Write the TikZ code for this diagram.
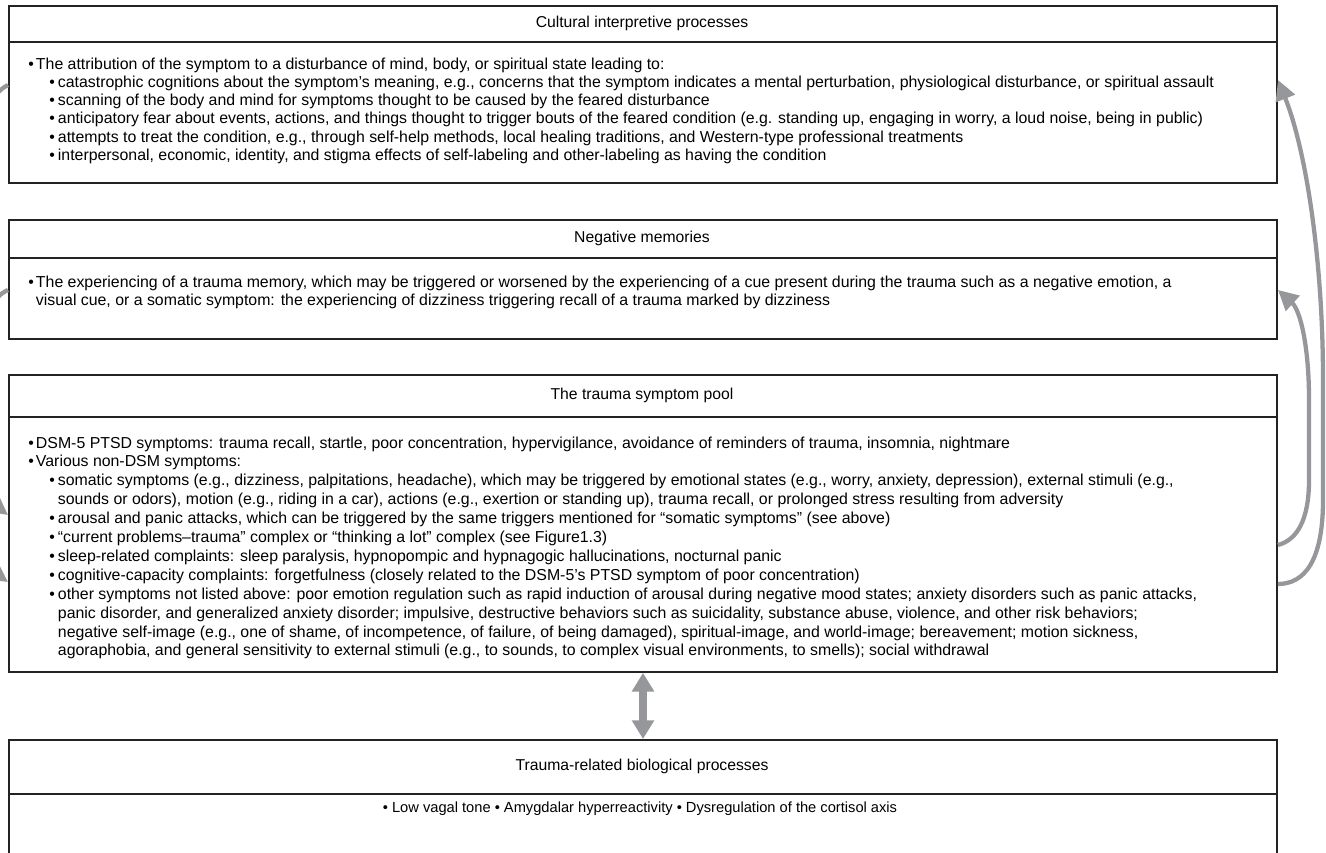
\documentclass[tikz,border=0pt]{standalone}
\usepackage{fontspec}
\setmainfont{Liberation Sans}
\usetikzlibrary{arrows.meta}
\definecolor{linkgray}{RGB}{150,151,154}
\definecolor{framecol}{RGB}{35,35,35}
\newcommand{\bodyfont}{\fontsize{11.9pt}{14pt}\selectfont}
\newcommand{\smallbody}{\fontsize{11pt}{13pt}\selectfont}
\newcommand{\headfont}{\fontsize{11.8pt}{14pt}\selectfont}
\newcommand{\topbul}{\makebox[5.8pt][l]{•}}
\newcommand{\subbul}{\makebox[6.5pt][l]{•}}

\begin{document}
\begin{tikzpicture}[x=0.75pt,y=-0.75pt,
  panel/.style={draw=framecol,line width=1.4pt,anchor=north west,inner sep=0pt,minimum width=951pt},
  divider/.style={draw=framecol,line width=1.3pt},
  heading/.style={font=\headfont,inner sep=0pt,anchor=center,text height=8.8pt,text depth=2.7pt},
  bodyline/.style={font=\bodyfont,inner sep=0pt,anchor=west,text height=8.8pt,text depth=2.7pt},
  link/.style={draw=linkgray,line width=3.2pt,-{Triangle[length=15pt,width=15pt]}},
  twoway/.style={draw=linkgray,line width=6pt,{Triangle[length=14pt,width=16pt]}-{Triangle[length=14pt,width=16pt]}},
]
\useasboundingbox (0,0) rectangle (1326,852);
\clip (0,0) rectangle (1326,852);

% helper coordinates for horizontal rules and the vertical link
\coordinate (h1) at (0,42);
\coordinate (h2) at (0,258);
\coordinate (h3) at (0,417);
\coordinate (h4) at (0,794);
\coordinate (mx) at (643,0);

% ---------- panels ----------
\node[panel,minimum height=132.75pt] (b1) at (8,5) {};
\node[panel,minimum height=89.25pt] (b2) at (8,219) {};
\node[panel,minimum height=222.75pt] (b3) at (8,374) {};
\node[panel,minimum height=105pt] (b4) at (8,739) {};

\draw[divider] (b1.west |- h1) -- (b1.east |- h1);
\draw[divider] (b2.west |- h2) -- (b2.east |- h2);
\draw[divider] (b3.west |- h3) -- (b3.east |- h3);
\draw[divider] (b4.west |- h4) -- (b4.east |- h4);

% ---------- headings ----------
\node[heading] (t1) at (642,23.5) {Cultural interpretive processes};
\node[heading] (t2) at (642,238.5) {Negative memories};
\node[heading] (t3) at (642,395.5) {The trauma symptom pool};
\node[heading] (t4) at (642,766.5) {Trauma-related biological processes};

% ---------- cultural interpretive processes ----------
\node[bodyline] (c1) at (28,65) {\topbul The attribution of the symptom to a disturbance of mind, body, or spiritual state leading to:};
\node[bodyline] (c2) at (49,83.3) {\subbul catastrophic cognitions about the symptom’s meaning, e.g., concerns that the symptom indicates a mental perturbation, physiological disturbance, or spiritual assault};
\node[bodyline] (c3) at (49,101.6) {\subbul scanning of the body and mind for symptoms thought to be caused by the feared disturbance};
\node[bodyline] (c4) at (49,119.9) {\subbul anticipatory fear about events, actions, and things thought to trigger bouts of the feared condition (e.g. standing up, engaging in worry, a loud noise, being in public)};
\node[bodyline] (c5) at (49,138.2) {\subbul attempts to treat the condition, e.g., through self-help methods, local healing traditions, and Western-type professional treatments};
\node[bodyline] (c6) at (49,156.5) {\subbul interpersonal, economic, identity, and stigma effects of self-labeling and other-labeling as having the condition};

% ---------- negative memories ----------
\node[bodyline] (m1) at (28,283) {\topbul The experiencing of a trauma memory, which may be triggered or worsened by the experiencing of a cue present during the trauma such as a negative emotion, a};
\node[bodyline] (m2) at (35.7,301.3) {visual cue, or a somatic symptom: the experiencing of dizziness triggering recall of a trauma marked by dizziness};

% ---------- trauma symptom pool ----------
\node[bodyline] (s1) at (28,444) {\topbul DSM-5 PTSD symptoms: trauma recall, startle, poor concentration, hypervigilance, avoidance of reminders of trauma, insomnia, nightmare};
\node[bodyline] (s2) at (28,462.9) {\topbul Various non-DSM symptoms:};
\node[bodyline] (s3) at (49,481.8) {\subbul somatic symptoms (e.g., dizziness, palpitations, headache), which may be triggered by emotional states (e.g., worry, anxiety, depression), external stimuli (e.g.,};
\node[bodyline] (s4) at (57.7,500.7) {sounds or odors), motion (e.g., riding in a car), actions (e.g., exertion or standing up), trauma recall, or prolonged stress resulting from adversity};
\node[bodyline] (s5) at (49,519.6) {\subbul arousal and panic attacks, which can be triggered by the same triggers mentioned for “somatic symptoms” (see above)};
\node[bodyline] (s6) at (49,538.5) {\subbul “current problems–trauma” complex or “thinking a lot” complex (see Figure1.3)};
\node[bodyline] (s7) at (49,557.4) {\subbul sleep-related complaints: sleep paralysis, hypnopompic and hypnagogic hallucinations, nocturnal panic};
\node[bodyline] (s8) at (49,576.3) {\subbul cognitive-capacity complaints: forgetfulness (closely related to the DSM-5’s PTSD symptom of poor concentration)};
\node[bodyline] (s9) at (49,595.2) {\subbul other symptoms not listed above: poor emotion regulation such as rapid induction of arousal during negative mood states; anxiety disorders such as panic attacks,};
\node[bodyline] (s10) at (57.7,614.1) {panic disorder, and generalized anxiety disorder; impulsive, destructive behaviors such as suicidality, substance abuse, violence, and other risk behaviors;};
\node[bodyline] (s11) at (57.7,633) {negative self-image (e.g., one of shame, of incompetence, of failure, of being damaged), spiritual-image, and world-image; bereavement; motion sickness,};
\node[bodyline] (s12) at (57.7,651.9) {agoraphobia, and general sensitivity to external stimuli (e.g., to sounds, to complex visual environments, to smells); social withdrawal};

% ---------- biological processes ----------
\node[bodyline,font=\smallbody,anchor=center] (p1) at (640,808) {• Low vagal tone • Amygdalar hyperreactivity • Dysregulation of the cortisol axis};

% ---------- feedback links on the right ----------
\coordinate (ra) at (b3.east |- 0,584);
\coordinate (rb) at (b3.east |- 0,545);
\coordinate (ta) at (1278,80);
\coordinate (tb) at (1278,290);
\draw[link] (ra) .. controls (1305,584) and (1323,560) .. (1323,500) -- (1323,380)
  .. controls (1323,260) and (1306,150) .. (ta);
\draw[link] (rb) .. controls (1297,540) and (1309,520) .. (1309,480) -- (1309,400)
  .. controls (1309,345) and (1300,310) .. (tb);

% ---------- links entering from the left margin ----------
\coordinate (la) at (8,85);
\coordinate (lb) at (8,290);
\coordinate (ua) at (8,582);
\coordinate (ub) at (8,515);
\draw[link] (la) .. controls (-12,95) and (-30,130) .. (-30,200) -- (-30,480)
  .. controls (-30,540) and (-12,568) .. (ua);
\draw[link] (lb) .. controls (-8,297) and (-18,317) .. (-18,355) -- (-18,440)
  .. controls (-18,480) and (-8,503) .. (ub);

% ---------- two-way link ----------
\draw[twoway] (b3.south -| mx) -- (b4.north -| mx);
\end{tikzpicture}
\end{document}
